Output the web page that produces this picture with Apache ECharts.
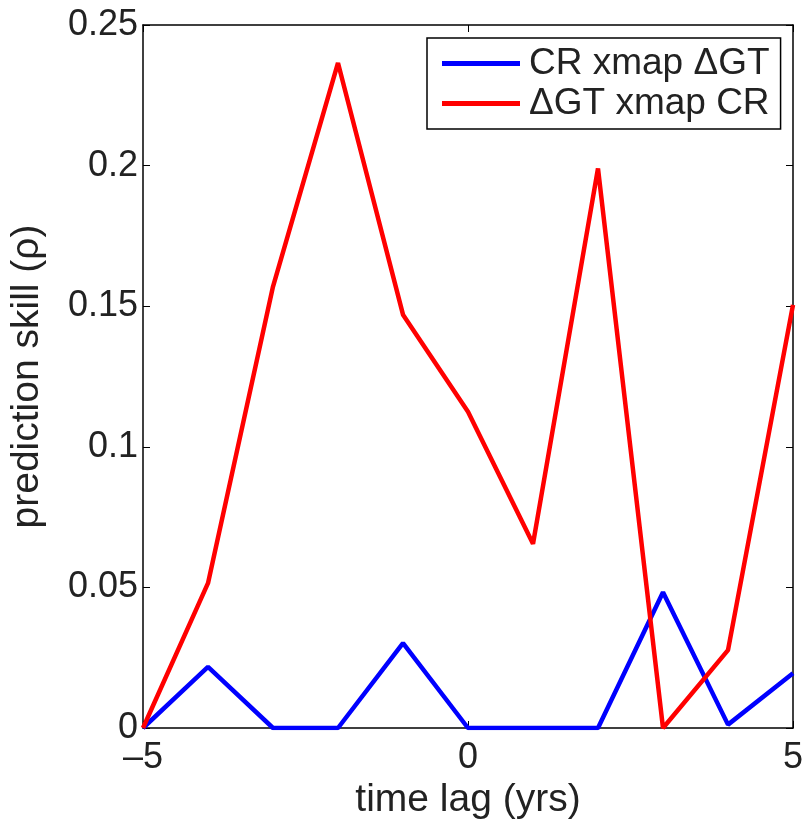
<!DOCTYPE html>
<html>
<head>
<meta charset="utf-8">
<script src="https://cdn.jsdelivr.net/npm/echarts@6/dist/echarts.min.js"></script>
<style>
html,body{margin:0;padding:0;background:#fff;}
#chart{width:807px;height:827px;}
</style>
</head>
<body>
<div id="chart"></div>
<script>
const lags = [-5, -4, -3, -2, -1, 0, 1, 2, 3, 4, 5];
const crXmapGT = [0, 0.0217, 0, 0, 0.0302, 0, 0, 0, 0.0483, 0.0012, 0.0195];
const gtXmapCR = [0, 0.0515, 0.157, 0.2365, 0.147, 0.1125, 0.0655, 0.199, 0, 0.0277, 0.1505];
const seriesNames = ['CR xmap \u0394GT', '\u0394GT xmap CR'];
const xTicks = [-5, 0, 5];
const yTicks = [0, 0.05, 0.1, 0.15, 0.2, 0.25];

const FONT = 'Liberation Sans, Arial, Helvetica, sans-serif';
const TXT = '#222';
const pairs = (ys) => lags.map((x, i) => [x, ys[i]]);

const chart = echarts.init(document.getElementById('chart'));
const baseAxisLine = {show: true, onZero: false, lineStyle: {color: '#000', width: 1.5}};
const tick = {show: true, inside: true, length: 7, lineStyle: {color: '#000', width: 1}};
chart.setOption({
  animation: false,
  backgroundColor: '#fff',
  grid: {left: 142, top: 25, right: 14, bottom: 99, show: false, containLabel: false},
  legend: {
    orient: 'vertical',
    left: 427, top: 38,
    padding: [7, 11, 7, 15],
    itemGap: 3,
    itemWidth: 78, itemHeight: 5,
    icon: 'rect',
    borderColor: '#000', borderWidth: 1.5,
    backgroundColor: '#fff',
    textStyle: {fontFamily: FONT, fontSize: 37, color: TXT, padding: [0, 0, 0, 4]},
    data: seriesNames
  },
  xAxis: [{
    type: 'value', min: -5, max: 5, interval: 5,
    position: 'bottom',
    name: 'time lag (yrs)', nameLocation: 'middle', nameGap: 50,
    nameTextStyle: {fontFamily: FONT, fontSize: 39, color: TXT},
    axisLine: baseAxisLine,
    axisTick: tick,
    axisLabel: {fontFamily: FONT, fontSize: 36, color: TXT, margin: 12,
      formatter: v => v < 0 ? '\u2013' + Math.abs(v) : String(v)},
    splitLine: {show: false}
  }, {
    type: 'value', min: -5, max: 5, interval: 5,
    position: 'top',
    axisLine: baseAxisLine,
    axisTick: tick,
    axisLabel: {show: false},
    splitLine: {show: false}
  }],
  yAxis: [{
    type: 'value', min: 0, max: 0.25, interval: 0.05,
    position: 'left',
    name: 'prediction skill (\u03c1)', nameLocation: 'middle', nameGap: 96,
    nameRotate: 90,
    nameTextStyle: {fontFamily: FONT, fontSize: 39, color: TXT},
    axisLine: baseAxisLine,
    axisTick: tick,
    axisLabel: {fontFamily: FONT, fontSize: 36, color: TXT, margin: 5,
      formatter: v => String(parseFloat(v.toFixed(2)))},
    splitLine: {show: false}
  }, {
    type: 'value', min: 0, max: 0.25, interval: 0.05,
    position: 'right',
    axisLine: baseAxisLine,
    axisTick: tick,
    axisLabel: {show: false},
    splitLine: {show: false}
  }],
  series: [{
    name: seriesNames[0], type: 'line', symbol: 'none',
    data: pairs(crXmapGT),
    lineStyle: {color: '#0000ff', width: 4.5},
    itemStyle: {color: '#0000ff'}
  }, {
    name: seriesNames[1], type: 'line', symbol: 'none',
    data: pairs(gtXmapCR),
    lineStyle: {color: '#ff0000', width: 4.5},
    itemStyle: {color: '#ff0000'}
  }]
});
</script>
</body>
</html>
